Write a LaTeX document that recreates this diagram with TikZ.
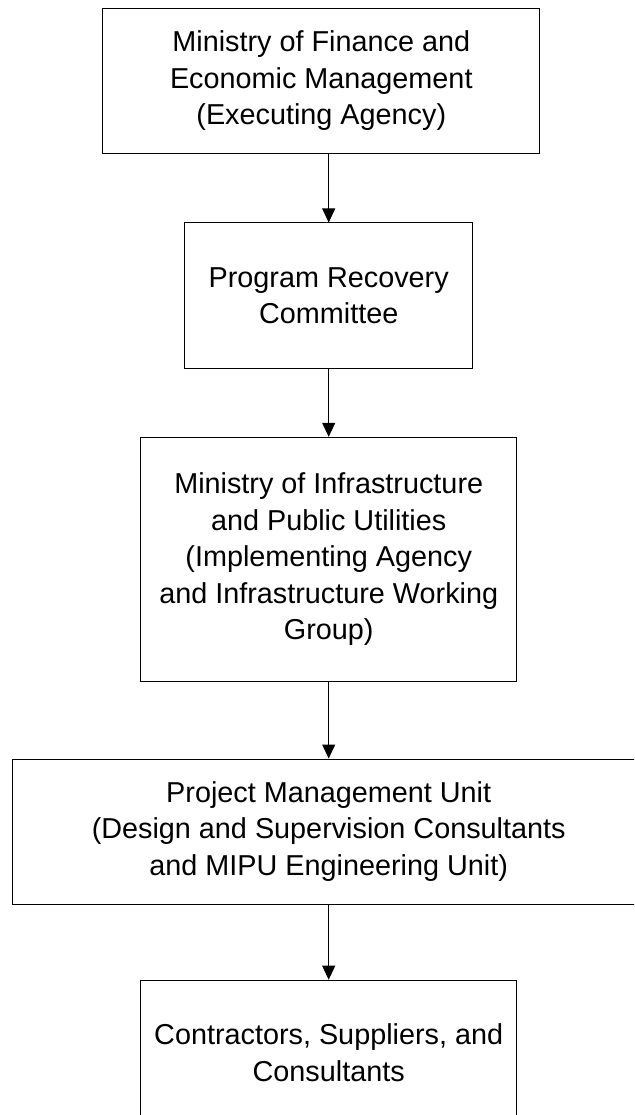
\documentclass[tikz,border=0pt]{standalone}
\usepackage{fontspec}
\setmainfont{Liberation Sans}
\usetikzlibrary{positioning,arrows.meta}

\begin{document}
\begin{tikzpicture}[x=1pt, y=-1pt,
    box/.style={rectangle, draw, line width=1pt, align=center, inner sep=0pt,
                font=\fontsize{28.8}{36.5}\selectfont, minimum height=145pt},
    arr/.style={-{Triangle[length=14pt, width=13pt]}, line width=1pt}]
    \useasboundingbox (0,0) rectangle (634,1115);
    \clip (0,0) rectangle (634,1115);
    \node[box, minimum width=437pt] (mofem) at (321.3,80.8)
        {Ministry of Finance and\\Economic Management\\(Executing Agency)};
    \node[box, minimum width=288pt, below=68.7pt of mofem, xshift=7.4pt] (prc)
        {Program Recovery\\Committee};
    \node[box, minimum width=376pt, minimum height=244pt, below=68.3pt of prc] (mipu)
        {Ministry of Infrastructure\\and Public Utilities\\(Implementing Agency\\and Infrastructure Working\\Group)};
    \node[box, minimum width=632pt, below=76.7pt of mipu] (pmu)
        {Project Management Unit\\(Design and Supervision Consultants\\and MIPU Engineering Unit)};
    \node[box, minimum width=376pt, below=75.2pt of pmu] (csc)
        {Contractors, Suppliers, and\\Consultants};
    \draw[arr] (prc.north |- mofem.south) -- (prc.north);
    \draw[arr] (prc) -- (mipu);
    \draw[arr] (mipu) -- (pmu);
    \draw[arr] (pmu) -- (csc);
  \end{tikzpicture}
\end{document}
